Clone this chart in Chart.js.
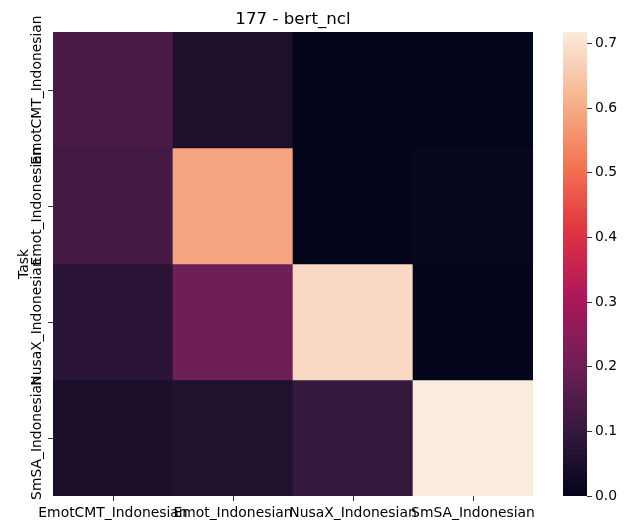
<!DOCTYPE html>
<html>
<head>
<meta charset="utf-8">
<script src="https://cdn.jsdelivr.net/npm/chart.js"></script>
<style>
  body { margin: 0; background: #fff; }
  #wrap { position: relative; width: 628px; height: 530px; }
  #wrap canvas { position: absolute; left: 0; top: 0; }
</style>
</head>
<body>
<div id="wrap">
  <canvas id="heat" width="628" height="530"></canvas>
  <canvas id="bar" width="628" height="530"></canvas>
</div>
<script>
// columns and rows of the heatmap
const colLabels = ['EmotCMT_Indonesian', 'Emot_Indonesian', 'NusaX_Indonesian', 'SmSA_Indonesian'];
const rowLabels = ['EmotCMT_Indonesian', 'Emot_Indonesian', 'NusaX_Indonesian', 'SmSA_Indonesian'];

// one array per row (Task)
const rowEmotCMT = [0.140, 0.055, 0.000, 0.000];
const rowEmot    = [0.125, 0.590, 0.000, 0.008];
const rowNusaX   = [0.080, 0.200, 0.685, 0.002];
const rowSmSA    = [0.050, 0.060, 0.100, 0.718];
const rows = [rowEmotCMT, rowEmot, rowNusaX, rowSmSA];

const vmin = 0;
const vmax = 0.718;
const colorTicks = [0.0, 0.1, 0.2, 0.3, 0.4, 0.5, 0.6, 0.7];

// rocket colormap stops
const rocket = [
  [0.000, [3, 5, 26]],
  [0.143, [53, 25, 62]],
  [0.286, [112, 31, 87]],
  [0.429, [173, 23, 89]],
  [0.571, [225, 51, 66]],
  [0.714, [243, 118, 81]],
  [0.857, [246, 180, 143]],
  [1.000, [250, 235, 221]]
];

function rocketColor(v) {
  let t = (v - vmin) / (vmax - vmin);
  t = Math.max(0, Math.min(1, t));
  for (let i = 1; i < rocket.length; i++) {
    const [t1, c1] = rocket[i];
    const [t0, c0] = rocket[i - 1];
    if (t <= t1) {
      const f = (t - t0) / (t1 - t0);
      const c = c0.map((x, k) => Math.round(x + (c1[k] - x) * f));
      return `rgb(${c[0]},${c[1]},${c[2]})`;
    }
  }
  return 'rgb(250,235,221)';
}

const font = { family: 'DejaVu Sans', size: 13.9 };
Chart.defaults.font.family = 'DejaVu Sans';
Chart.defaults.color = '#000';

// rotated row labels on the left
const rowLabelPlugin = {
  id: 'rowLabels',
  afterDraw(chart) {
    const y = chart.scales.y;
    const ctx = chart.ctx;
    ctx.save();
    ctx.font = `${font.size}px ${font.family}`;
    ctx.fillStyle = '#000';
    ctx.textAlign = 'center';
    ctx.textBaseline = 'middle';
    rowLabels.forEach((lab, i) => {
      const py = y.getPixelForValue(i + 0.5);
      ctx.save();
      ctx.translate(37, py);
      ctx.rotate(-Math.PI / 2);
      ctx.fillText(lab, 0, 0);
      ctx.restore();
    });
    ctx.restore();
  }
};

new Chart(document.getElementById('heat'), {
  type: 'bar',
  data: {
    labels: colLabels,
    datasets: rows.map((vals, r) => ({
      label: rowLabels[r],
      data: vals.map(() => [r, r + 1]),
      backgroundColor: vals.map(rocketColor),
      borderWidth: 0,
      grouped: false,
      categoryPercentage: 1,
      barPercentage: 1
    }))
  },
  options: {
    responsive: false,
    animation: false,
    layout: { padding: { left: 0, right: 95, top: 0, bottom: 0 } },
    plugins: {
      legend: { display: false },
      tooltip: { enabled: false },
      title: {
        display: true,
        text: '177 - bert_ncl',
        fullSize: false,
        color: '#000',
        font: { family: 'DejaVu Sans', size: 16.67, weight: 'normal' },
        padding: { top: 10, bottom: 2 }
      }
    },
    scales: {
      x: {
        type: 'category',
        offset: true,
        border: { display: false },
        grid: { offset: false, drawOnChartArea: false, drawTicks: true, tickLength: 5, color: '#000', lineWidth: 0.8 },
        ticks: { autoSkip: false, maxRotation: 0, minRotation: 0, padding: 4, font: font, color: '#000' },
        afterFit(s) { s.height = 34; }
      },
      y: {
        type: 'linear',
        min: 0,
        max: 4,
        reverse: true,
        border: { display: false },
        grid: { drawOnChartArea: false, drawTicks: true, tickLength: 5, color: '#000', lineWidth: 0.8 },
        ticks: { display: false },
        title: { display: true, text: 'Task', font: font, color: '#000', padding: { top: 16.5, bottom: 0 } },
        afterBuildTicks(s) { s.ticks = rowLabels.map((_, i) => ({ value: i + 0.5 })); },
        afterFit(s) { s.width = 53; }
      }
    }
  },
  plugins: [rowLabelPlugin]
});

// colorbar
new Chart(document.getElementById('bar'), {
  type: 'bar',
  data: {
    labels: ['scale'],
    datasets: [{
      data: [[vmin, vmax]],
      backgroundColor(c) {
        const a = c.chart.chartArea;
        if (!a) return null;
        const g = c.chart.ctx.createLinearGradient(0, a.bottom, 0, a.top);
        rocket.forEach(([t, rgb]) => g.addColorStop(t, `rgb(${rgb[0]},${rgb[1]},${rgb[2]})`));
        return g;
      },
      borderWidth: 0,
      categoryPercentage: 1,
      barPercentage: 1
    }]
  },
  options: {
    responsive: false,
    animation: false,
    layout: { padding: { left: 563, right: 0, top: 32, bottom: 34 } },
    plugins: { legend: { display: false }, tooltip: { enabled: false } },
    scales: {
      x: { display: false },
      y: {
        position: 'right',
        min: vmin,
        max: vmax,
        border: { display: false },
        grid: { drawOnChartArea: false, drawTicks: true, tickLength: 5, color: '#000', lineWidth: 0.8 },
        ticks: { padding: 3, font: font, color: '#000', callback: v => v.toFixed(1) },
        afterBuildTicks(s) { s.ticks = colorTicks.map(v => ({ value: v })); },
        afterFit(s) { s.width = 41; }
      }
    }
  }
});
</script>
</body>
</html>
